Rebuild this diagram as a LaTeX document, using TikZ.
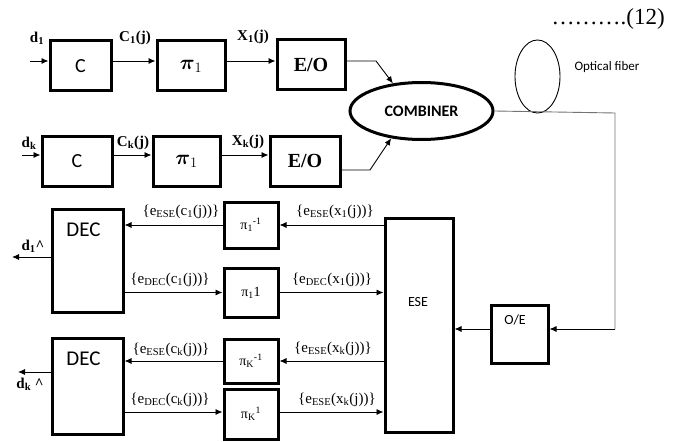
\documentclass[tikz,border=0pt]{standalone}
\usepackage{amsmath}
\usepackage{fontspec}
\setmainfont{Liberation Serif}
\newfontfamily\calibrifont{Carlito}
\usetikzlibrary{shapes.geometric,arrows.meta}

\begin{document}
\begin{tikzpicture}[x=1pt,y=-1pt,
  blk/.style={draw,line width=3pt,inner sep=0pt},
  arr/.style={line width=0.9pt,-{Latex[length=7pt,width=6pt]}},
  wire/.style={line width=0.9pt},
  lbl/.style={font=\fontsize{15}{16}\selectfont\bfseries,inner sep=0pt},
  elbl/.style={font=\fontsize{15}{16}\selectfont,inner sep=0pt},
  pilbl/.style={font=\fontsize{14}{15}\selectfont},
  sans/.style={font=\calibrifont\fontsize{14}{15}\selectfont}]
  \useasboundingbox (0,0) rectangle (676,441);

  % transmitter, branch 1
  \node[blk,minimum width=61pt,minimum height=50pt,font=\calibrifont\fontsize{20}{21}\selectfont] (c1) at (80.5,66) {C};
  \node[blk,minimum width=68pt,minimum height=50pt,font=\fontsize{21}{22}\selectfont] (p1) at (191,66) {$\boldsymbol{\pi}_1$};
  \node[blk,minimum width=68pt,minimum height=50pt,font=\fontsize{20}{21}\selectfont\bfseries] (eo1) at (311,65) {E/O};
  \coordinate (in1) at (30,61);
  \draw[arr] (in1) -- (in1 -| c1.west);
  \draw[arr] (c1.east |- in1) -- (p1.west |- in1);
  \draw[arr] (p1.east |- in1) -- (eo1.west |- in1);
  \node[lbl] (d1) at (37,38) {d\textsubscript{1}};
  \node[lbl] (cj1) at (135,38) {C\textsubscript{1}(j)};
  \node[lbl] (xj1) at (253,37) {X\textsubscript{1}(j)};

  % transmitter, branch k
  \node[blk,minimum width=70pt,minimum height=50pt,font=\calibrifont\fontsize{20}{21}\selectfont] (ck) at (77,161) {C};
  \node[blk,minimum width=67pt,minimum height=50pt,font=\fontsize{21}{22}\selectfont] (pk) at (186.5,161) {$\boldsymbol{\pi}_1$};
  \node[blk,minimum width=70pt,minimum height=50pt,font=\fontsize{20}{21}\selectfont\bfseries] (eok) at (305,161) {E/O};
  \coordinate (ink) at (22,155);
  \draw[arr] (ink) -- (ink -| ck.west);
  \draw[arr] (ck.east |- ink) -- (pk.west |- ink);
  \draw[arr] (pk.east |- ink) -- (eok.west |- ink);
  \node[lbl] (dk) at (29,143) {d\textsubscript{k}};
  \node[lbl] (cjk) at (133,143) {C\textsubscript{k}(j)};
  \node[lbl] (xjk) at (248,142) {X\textsubscript{k}(j)};

  % combiner and fiber
  \node[draw,ellipse,line width=3pt,minimum width=143pt,minimum height=57pt,
        font=\calibrifont\fontsize{16}{17}\selectfont\bfseries] (comb) at (421.5,111) {COMBINER};
  \draw[arr] ([yshift=4pt]eo1.east) -- (376,61) -- (comb.136);
  \draw[arr] ([yshift=-9pt]eok.east) -- (370,170) -- (comb.222);
  \node[draw,ellipse,line width=0.9pt,minimum width=45pt,minimum height=73pt] (fiber) at (537.5,76.5) {};
  \node[font=\calibrifont\fontsize{13}{14}\selectfont,inner sep=0pt] (fibtxt) at (607,67) {Optical fiber};

  % receiver
  \node[blk,minimum width=68pt,minimum height=214pt] (ese) at (419,325) {};
  \node[sans,inner sep=0pt] (esetxt) at (418,302) {ESE};
  \node[blk,minimum width=57pt,minimum height=58pt] (oe) at (519.5,334) {};
  \node[sans,inner sep=0pt] (oetxt) at (515,320) {O/E};
  \draw[wire,black!55] (comb.east) -- (615,113) -- (615,329) coordinate (fb);
  \draw[arr] (fb) -- (oe.east |- fb);
  \draw[arr] (oe.west |- fb) -- (ese.east |- fb);

  \node[blk,minimum width=71pt,minimum height=103pt,
        label={[font=\calibrifont\fontsize{21}{22}\selectfont,anchor=north,yshift=-12pt,xshift=-4pt]north:DEC}] (dec1) at (87.5,260.5) {};
  \node[blk,minimum width=54pt,minimum height=46pt,pilbl] (pinv1) at (251,225) {π\textsubscript{1}\textsuperscript{-1}};
  \node[blk,minimum width=54pt,minimum height=49pt,pilbl] (pfwd1) at (251,292.5) {π\textsubscript{1}1};
  \node[blk,minimum width=71pt,minimum height=96pt,
        label={[font=\calibrifont\fontsize{21}{22}\selectfont,anchor=north,yshift=-12pt,xshift=-4pt]north:DEC}] (deck) at (87.5,386) {};
  \node[blk,minimum width=54pt,minimum height=44pt,pilbl] (pinvk) at (251,361) {π\textsubscript{K}\textsuperscript{-1}};
  \node[blk,minimum width=54pt,minimum height=50pt,pilbl] (pfwdk) at (251,414) {π\textsubscript{K}\textsuperscript{1}};

  \draw[arr] (ese.west |- pinv1) -- (pinv1.east);
  \draw[arr] (pinv1.west) -- (dec1.east |- pinv1);
  \draw[arr] (dec1.east |- pfwd1) -- (pfwd1.west);
  \draw[arr] (pfwd1.east) -- (ese.west |- pfwd1);
  \draw[arr] (ese.west |- pinvk) -- (pinvk.east);
  \draw[arr] (pinvk.west) -- (deck.east |- pinvk);
  \draw[arr] ([yshift=2pt]deck.east |- pfwdk) -- ([yshift=2pt]pfwdk.west);
  \draw[arr] ([yshift=2pt]pfwdk.east) -- ([yshift=2pt]ese.west |- pfwdk);
  \draw[arr] (dec1.west |- 0,257) -- (12,257);
  \draw[arr] (deck.west |- 0,372) -- (18,372);

  \node[elbl] (l1) at (181,212) {\{e\textsubscript{ESE}(c\textsubscript{1}(j))\}};
  \node[elbl] (l2) at (335,212) {\{e\textsubscript{ESE}(x\textsubscript{1}(j))\}};
  \node[elbl] (l3) at (170,280) {\{e\textsubscript{DEC}(c\textsubscript{1}(j))\}};
  \node[elbl] (l4) at (332,280) {\{e\textsubscript{DEC}(x\textsubscript{1}(j))\}};
  \node[elbl] (l5) at (171,350) {\{e\textsubscript{ESE}(c\textsubscript{k}(j))\}};
  \node[elbl] (l6) at (333,349) {\{e\textsubscript{ESE}(x\textsubscript{k}(j))\}};
  \node[elbl] (l7) at (170,400) {\{e\textsubscript{DEC}(c\textsubscript{k}(j))\}};
  \node[elbl] (l8) at (337,400) {\{e\textsubscript{ESE}(x\textsubscript{k}(j))\}};
  \node[lbl] (out1) at (33,246) {d\textsubscript{1}\textasciicircum};
  \node[lbl] (outk) at (30,384) {d\textsubscript{k} \textasciicircum};

  \node[font=\fontsize{23}{24}\selectfont,inner sep=0pt,anchor=east] (eq) at (665,19) {……….(12)};
\end{tikzpicture}
\end{document}
